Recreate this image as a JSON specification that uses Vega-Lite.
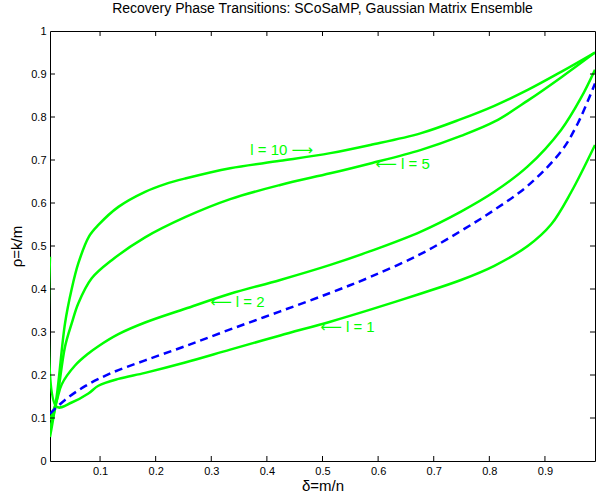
{
  "$schema": "https://vega.github.io/schema/vega-lite/v6.json",
  "width": 545,
  "height": 430,
  "autosize": "none",
  "padding": {"left": 50, "top": 31, "right": 1, "bottom": 35},
  "background": "white",
  "config": {
    "font": "Liberation Sans",
    "view": {"stroke": "black", "strokeWidth": 1},
    "axis": {"grid": false, "labelColor": "black", "titleColor": "black", "labelFont": "Liberation Sans", "titleFont": "Liberation Sans", "labelFontSize": 11, "titleFontSize": 15, "titleFontWeight": "normal", "ticks": true, "tickSize": 5, "tickOpacity": 0, "offset": -5, "domain": false, "labelPadding": 4}
  },
  "title": {"text": "Recovery Phase Transitions: SCoSaMP, Gaussian Matrix Ensemble", "fontSize": 14, "fontWeight": "normal", "font": "Liberation Sans", "color": "black", "offset": 9},
  "datasets": {
    "curves": [
      {"s": "l10", "d": 0.01, "r": 0.056}, {"s": "l10", "d": 0.022, "r": 0.15}, {"s": "l10", "d": 0.037, "r": 0.32}, {"s": "l10", "d": 0.049, "r": 0.40}, {"s": "l10", "d": 0.061, "r": 0.46}, {"s": "l10", "d": 0.08, "r": 0.522}, {"s": "l10", "d": 0.097, "r": 0.549}, {"s": "l10", "d": 0.133, "r": 0.591}, {"s": "l10", "d": 0.181, "r": 0.626}, {"s": "l10", "d": 0.217, "r": 0.644}, {"s": "l10", "d": 0.253, "r": 0.657}, {"s": "l10", "d": 0.334, "r": 0.681}, {"s": "l10", "d": 0.424, "r": 0.698}, {"s": "l10", "d": 0.514, "r": 0.716}, {"s": "l10", "d": 0.586, "r": 0.735}, {"s": "l10", "d": 0.676, "r": 0.762}, {"s": "l10", "d": 0.749, "r": 0.795}, {"s": "l10", "d": 0.809, "r": 0.826}, {"s": "l10", "d": 0.869, "r": 0.863}, {"s": "l10", "d": 0.929, "r": 0.905}, {"s": "l10", "d": 0.99, "r": 0.95},
      {"s": "l5", "d": 0.01, "r": 0.075}, {"s": "l5", "d": 0.022, "r": 0.14}, {"s": "l5", "d": 0.037, "r": 0.266}, {"s": "l5", "d": 0.049, "r": 0.32}, {"s": "l5", "d": 0.061, "r": 0.367}, {"s": "l5", "d": 0.085, "r": 0.425}, {"s": "l5", "d": 0.121, "r": 0.467}, {"s": "l5", "d": 0.181, "r": 0.52}, {"s": "l5", "d": 0.253, "r": 0.567}, {"s": "l5", "d": 0.334, "r": 0.609}, {"s": "l5", "d": 0.424, "r": 0.642}, {"s": "l5", "d": 0.514, "r": 0.669}, {"s": "l5", "d": 0.586, "r": 0.692}, {"s": "l5", "d": 0.676, "r": 0.723}, {"s": "l5", "d": 0.749, "r": 0.756}, {"s": "l5", "d": 0.809, "r": 0.789}, {"s": "l5", "d": 0.869, "r": 0.838}, {"s": "l5", "d": 0.929, "r": 0.892}, {"s": "l5", "d": 0.99, "r": 0.95},
      {"s": "l2", "d": 0.01, "r": 0.095}, {"s": "l2", "d": 0.022, "r": 0.14}, {"s": "l2", "d": 0.031, "r": 0.178}, {"s": "l2", "d": 0.055, "r": 0.222}, {"s": "l2", "d": 0.079, "r": 0.25}, {"s": "l2", "d": 0.097, "r": 0.267}, {"s": "l2", "d": 0.133, "r": 0.295}, {"s": "l2", "d": 0.181, "r": 0.322}, {"s": "l2", "d": 0.253, "r": 0.354}, {"s": "l2", "d": 0.334, "r": 0.389}, {"s": "l2", "d": 0.424, "r": 0.421}, {"s": "l2", "d": 0.514, "r": 0.456}, {"s": "l2", "d": 0.586, "r": 0.488}, {"s": "l2", "d": 0.676, "r": 0.533}, {"s": "l2", "d": 0.749, "r": 0.58}, {"s": "l2", "d": 0.809, "r": 0.626}, {"s": "l2", "d": 0.869, "r": 0.685}, {"s": "l2", "d": 0.929, "r": 0.77}, {"s": "l2", "d": 0.965, "r": 0.845}, {"s": "l2", "d": 0.99, "r": 0.91},
      {"s": "l1", "d": 0.01, "r": 0.475}, {"s": "l1", "d": 0.022, "r": 0.126}, {"s": "l1", "d": 0.049, "r": 0.136}, {"s": "l1", "d": 0.079, "r": 0.157}, {"s": "l1", "d": 0.097, "r": 0.175}, {"s": "l1", "d": 0.133, "r": 0.191}, {"s": "l1", "d": 0.181, "r": 0.205}, {"s": "l1", "d": 0.253, "r": 0.229}, {"s": "l1", "d": 0.334, "r": 0.259}, {"s": "l1", "d": 0.424, "r": 0.292}, {"s": "l1", "d": 0.514, "r": 0.324}, {"s": "l1", "d": 0.586, "r": 0.352}, {"s": "l1", "d": 0.676, "r": 0.389}, {"s": "l1", "d": 0.749, "r": 0.421}, {"s": "l1", "d": 0.809, "r": 0.454}, {"s": "l1", "d": 0.869, "r": 0.5}, {"s": "l1", "d": 0.911, "r": 0.55}, {"s": "l1", "d": 0.947, "r": 0.625}, {"s": "l1", "d": 0.99, "r": 0.735}
    ],
    "theory": [
      {"d": 0.01, "r": 0.11}, {"d": 0.037, "r": 0.142}, {"d": 0.073, "r": 0.174}, {"d": 0.121, "r": 0.205}, {"d": 0.181, "r": 0.234}, {"d": 0.253, "r": 0.267}, {"d": 0.334, "r": 0.306}, {"d": 0.424, "r": 0.348}, {"d": 0.514, "r": 0.391}, {"d": 0.586, "r": 0.428}, {"d": 0.676, "r": 0.481}, {"d": 0.749, "r": 0.535}, {"d": 0.809, "r": 0.584}, {"d": 0.869, "r": 0.64}, {"d": 0.929, "r": 0.72}, {"d": 0.959, "r": 0.785}, {"d": 0.99, "r": 0.878}
    ],
    "labels": [
      {"t": "l = 10 ⟶", "d": 0.37, "r": 0.723},
      {"t": "⟵ l = 5", "d": 0.595, "r": 0.691},
      {"t": "⟵ l = 2", "d": 0.298, "r": 0.37},
      {"t": "⟵ l = 1", "d": 0.496, "r": 0.312}
    ],
    "xticks": [{"v": 0.1}, {"v": 0.2}, {"v": 0.3}, {"v": 0.4}, {"v": 0.5}, {"v": 0.6}, {"v": 0.7}, {"v": 0.8}, {"v": 0.9}],
    "yticks": [{"v": 0.1}, {"v": 0.2}, {"v": 0.3}, {"v": 0.4}, {"v": 0.5}, {"v": 0.6}, {"v": 0.7}, {"v": 0.8}, {"v": 0.9}]
  },
  "layer": [
    {
      "data": {"name": "curves"},
      "mark": {"type": "line", "color": "#00ff00", "strokeWidth": 2.5, "interpolate": "catmull-rom", "clip": true},
      "encoding": {
        "x": {"field": "d", "type": "quantitative", "scale": {"domain": [0.01, 0.99], "nice": false, "zero": false}, "axis": {"orient": "bottom", "values": [0.1, 0.2, 0.3, 0.4, 0.5, 0.6, 0.7, 0.8, 0.9], "labelExpr": "datum.value", "title": "δ=m/n", "titlePadding": 2}},
        "y": {"field": "r", "type": "quantitative", "scale": {"domain": [0, 1], "nice": false}, "axis": {"orient": "left", "values": [0, 0.1, 0.2, 0.3, 0.4, 0.5, 0.6, 0.7, 0.8, 0.9, 1], "labelExpr": "datum.value", "title": "ρ=k/m", "titlePadding": 6}},
        "detail": {"field": "s", "type": "nominal"}
      }
    },
    {
      "data": {"name": "theory"},
      "mark": {"type": "line", "color": "#0000ff", "strokeWidth": 2.5, "strokeDash": [8, 5], "interpolate": "catmull-rom", "clip": true},
      "encoding": {
        "x": {"field": "d", "type": "quantitative", "title": "δ=m/n"},
        "y": {"field": "r", "type": "quantitative", "title": "ρ=k/m"}
      }
    },
    {
      "data": {"name": "xticks"},
      "mark": {"type": "rule", "color": "black", "strokeWidth": 1},
      "encoding": {
        "x": {"field": "v", "type": "quantitative", "title": "δ=m/n"},
        "y": {"datum": 0, "type": "quantitative"},
        "y2": {"datum": 0.0116}
      }
    },
    {
      "data": {"name": "xticks"},
      "mark": {"type": "rule", "color": "black", "strokeWidth": 1},
      "encoding": {
        "x": {"field": "v", "type": "quantitative", "title": "δ=m/n"},
        "y": {"datum": 1, "type": "quantitative"},
        "y2": {"datum": 0.9884}
      }
    },
    {
      "data": {"name": "yticks"},
      "mark": {"type": "rule", "color": "black", "strokeWidth": 1},
      "encoding": {
        "y": {"field": "v", "type": "quantitative", "title": "ρ=k/m"},
        "x": {"datum": 0.01, "type": "quantitative"},
        "x2": {"datum": 0.019}
      }
    },
    {
      "data": {"name": "yticks"},
      "mark": {"type": "rule", "color": "black", "strokeWidth": 1},
      "encoding": {
        "y": {"field": "v", "type": "quantitative", "title": "ρ=k/m"},
        "x": {"datum": 0.99, "type": "quantitative"},
        "x2": {"datum": 0.981}
      }
    },
    {
      "data": {"name": "labels"},
      "mark": {"type": "text", "color": "#00ff00", "fontSize": 15, "align": "left", "baseline": "middle", "font": "Liberation Sans, DejaVu Sans"},
      "encoding": {
        "x": {"field": "d", "type": "quantitative", "title": "δ=m/n"},
        "y": {"field": "r", "type": "quantitative", "title": "ρ=k/m"},
        "text": {"field": "t"}
      }
    }
  ]
}
